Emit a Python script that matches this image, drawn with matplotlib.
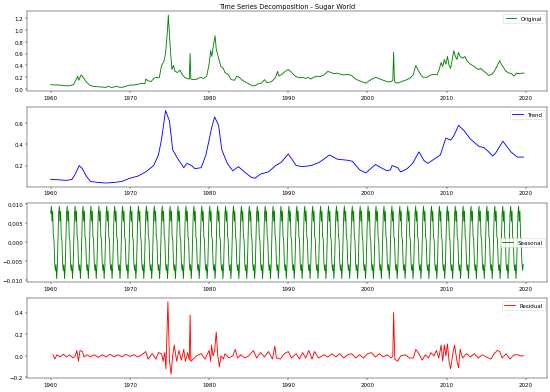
#!/usr/bin/env python3
"""
Time series decomposition chart for the Sugar World monthly price series.
Values are read off the reference picture (year, value) pairs.
"""

import numpy as np
import matplotlib
matplotlib.use("Agg")
import matplotlib.pyplot as plt

# Original series (year, price)
orig_years = [1960.0, 1960.5, 1961.0, 1961.5, 1962.0, 1962.5, 1962.9, 1963.2, 1963.4, 1963.55,
              1963.7, 1963.85, 1964.1, 1964.5, 1965.0, 1965.5, 1966.0, 1966.5, 1967.0, 1967.3,
              1967.6, 1968.0, 1968.3, 1968.6, 1969.0, 1969.5, 1970.0, 1970.5, 1971.0, 1971.5,
              1971.9, 1972.0, 1972.3, 1972.7, 1973.0, 1973.3, 1973.7, 1974.0, 1974.3, 1974.5,
              1974.75, 1974.85, 1975.0, 1975.15, 1975.3, 1975.5, 1975.7, 1976.0, 1976.3, 1976.6,
              1976.9, 1977.2, 1977.5, 1977.6, 1977.7, 1978.0, 1978.5, 1978.9, 1979.3, 1979.7,
              1980.0, 1980.2, 1980.35, 1980.5, 1980.75, 1980.9, 1981.2, 1981.5, 1981.8, 1982.0,
              1982.4, 1982.8, 1983.2, 1983.5, 1983.8, 1984.2, 1984.6, 1985.0, 1985.5, 1985.8,
              1986.2, 1986.6, 1987.0, 1987.3, 1987.7, 1988.0, 1988.4, 1988.65, 1988.8, 1989.2,
              1989.6, 1990.0, 1990.3, 1990.7, 1991.0, 1991.5, 1991.8, 1992.2, 1992.5, 1992.8,
              1993.2, 1993.6, 1994.0, 1994.5, 1995.0, 1995.4, 1995.8, 1996.2, 1996.6, 1997.0,
              1997.5, 1998.0, 1998.5, 1999.0, 1999.4, 1999.8, 2000.2, 2000.6, 2001.0, 2001.4,
              2001.8, 2002.2, 2002.6, 2003.0, 2003.2, 2003.3, 2003.4, 2003.7, 2004.0, 2004.5,
              2005.0, 2005.5, 2005.8, 2006.1, 2006.4, 2006.7, 2007.0, 2007.5, 2008.0, 2008.5,
              2008.8, 2009.1, 2009.3, 2009.5, 2009.7, 2009.9, 2010.1, 2010.3, 2010.5, 2010.7,
              2010.9, 2011.1, 2011.3, 2011.5, 2011.7, 2012.0, 2012.3, 2012.6, 2013.0, 2013.5,
              2014.0, 2014.3, 2014.7, 2015.0, 2015.3, 2015.7, 2016.0, 2016.4, 2016.7, 2016.9,
              2017.2, 2017.5, 2017.9, 2018.2, 2018.5, 2018.8, 2019.2, 2019.5, 2019.75]
orig_values = [0.075, 0.07, 0.07, 0.065, 0.055, 0.06, 0.08, 0.16, 0.22, 0.15,
               0.2, 0.24, 0.2, 0.12, 0.06, 0.045, 0.04, 0.035, 0.03, 0.05,
               0.03, 0.035, 0.05, 0.035, 0.03, 0.05, 0.07, 0.07, 0.08, 0.1,
               0.09, 0.17, 0.14, 0.13, 0.18, 0.2, 0.19, 0.4, 0.47, 0.6,
               1.0, 1.25, 0.9, 0.6, 0.33, 0.4, 0.3, 0.28, 0.32, 0.25,
               0.2, 0.18, 0.17, 0.6, 0.17, 0.16, 0.17, 0.2, 0.18, 0.22,
               0.42, 0.65, 0.55, 0.7, 0.9, 0.68, 0.52, 0.38, 0.35, 0.28,
               0.25, 0.16, 0.15, 0.22, 0.2, 0.15, 0.12, 0.09, 0.055, 0.06,
               0.09, 0.1, 0.16, 0.11, 0.12, 0.14, 0.2, 0.3, 0.22, 0.25,
               0.3, 0.33, 0.3, 0.24, 0.21, 0.19, 0.2, 0.18, 0.2, 0.17,
               0.2, 0.22, 0.21, 0.24, 0.3, 0.28, 0.26, 0.27, 0.25, 0.24,
               0.25, 0.23, 0.17, 0.14, 0.12, 0.1, 0.14, 0.17, 0.2, 0.18,
               0.16, 0.14, 0.12, 0.13, 0.15, 0.62, 0.13, 0.1, 0.11, 0.14,
               0.16, 0.2, 0.25, 0.4, 0.32, 0.25, 0.2, 0.2, 0.24, 0.25,
               0.24, 0.35, 0.45, 0.38, 0.5, 0.42, 0.55, 0.4, 0.35, 0.5,
               0.65, 0.55, 0.5, 0.62, 0.55, 0.52, 0.55, 0.47, 0.42, 0.38,
               0.33, 0.35, 0.3, 0.27, 0.23, 0.25, 0.3, 0.4, 0.48, 0.42,
               0.36, 0.3, 0.27, 0.26, 0.22, 0.27, 0.26, 0.27, 0.27]

# Trend component
trend_years = [1960.0, 1961.0, 1962.0, 1962.7, 1963.1, 1963.6, 1964.0, 1964.5, 1965.0, 1966.0,
               1967.0, 1968.0, 1969.0, 1970.0, 1971.0, 1972.0, 1973.0, 1973.6, 1974.0, 1974.5,
               1975.0, 1975.4, 1976.0, 1976.8, 1977.2, 1977.8, 1978.2, 1979.0, 1979.6, 1980.3,
               1980.7, 1981.2, 1981.6, 1982.3, 1983.0, 1983.7, 1984.3, 1985.3, 1985.8, 1986.5,
               1987.5, 1988.4, 1989.1, 1990.0, 1991.0, 1991.8, 1992.9, 1993.9, 1995.2, 1996.2,
               1997.5, 1998.1, 1999.0, 1999.8, 2000.4, 2001.0, 2001.7, 2002.5, 2002.9, 2003.1,
               2003.8, 2004.2, 2005.0, 2005.7, 2006.5, 2007.1, 2007.6, 2008.6, 2009.2, 2009.9,
               2010.5, 2010.9, 2011.5, 2012.2, 2013.0, 2014.1, 2014.7, 2015.3, 2015.8, 2016.2,
               2017.1, 2018.1, 2018.9, 2019.7]
trend_values = [0.07, 0.065, 0.06, 0.07, 0.12, 0.2, 0.17, 0.1, 0.05, 0.04,
                0.035, 0.04, 0.05, 0.08, 0.1, 0.14, 0.2, 0.3, 0.45, 0.72,
                0.62, 0.35, 0.27, 0.18, 0.22, 0.2, 0.17, 0.18, 0.3, 0.55,
                0.66, 0.58, 0.35, 0.22, 0.15, 0.19, 0.15, 0.09, 0.08, 0.12,
                0.14, 0.2, 0.23, 0.31, 0.2, 0.19, 0.2, 0.23, 0.3, 0.26,
                0.25, 0.24, 0.16, 0.13, 0.17, 0.21, 0.18, 0.15, 0.16, 0.2,
                0.18, 0.14, 0.17, 0.22, 0.33, 0.25, 0.22, 0.27, 0.3, 0.46,
                0.44, 0.48, 0.58, 0.53, 0.45, 0.38, 0.37, 0.33, 0.29, 0.32,
                0.43, 0.33, 0.28, 0.28]

# Seasonal component: one value per calendar month, repeated each year
seasonal_month = [0.0076, 0.0095, 0.0055, 0.0082, 0.0015, 0.0005,
                  -0.0055, -0.0075, -0.006, -0.0097, -0.0065, 0.001]
first_year, last_year, last_month = 1960, 2019, 9

# Residual component
resid_years = [1960.3, 1960.5, 1960.8, 1961.2, 1961.6, 1962.0, 1962.4, 1962.8, 1963.1, 1963.3,
               1963.5, 1963.7, 1964.0, 1964.2, 1964.6, 1965.0, 1965.5, 1966.0, 1966.5, 1967.0,
               1967.5, 1968.0, 1968.5, 1969.0, 1969.5, 1970.0, 1970.5, 1971.0, 1971.5, 1972.0,
               1972.3, 1972.8, 1973.3, 1973.6, 1974.0, 1974.2, 1974.4, 1974.55, 1974.8, 1975.0,
               1975.2, 1975.4, 1975.6, 1975.9, 1976.2, 1976.5, 1976.8, 1977.0, 1977.3, 1977.5,
               1977.6, 1977.7, 1978.0, 1978.4, 1979.0, 1979.5, 1980.0, 1980.2, 1980.3, 1980.5,
               1980.7, 1980.9, 1981.1, 1981.3, 1981.5, 1981.8, 1982.0, 1982.5, 1983.0, 1983.3,
               1983.6, 1984.0, 1984.5, 1985.0, 1985.6, 1986.0, 1986.5, 1987.0, 1987.5, 1988.0,
               1988.3, 1988.5, 1989.0, 1989.5, 1990.0, 1990.4, 1991.0, 1991.4, 1991.8, 1992.2,
               1992.6, 1993.0, 1993.3, 1993.8, 1994.5, 1995.0, 1995.5, 1996.0, 1996.5, 1997.0,
               1997.5, 1998.0, 1998.5, 1999.0, 1999.5, 2000.0, 2000.5, 2001.0, 2001.5, 2002.0,
               2002.5, 2003.0, 2003.2, 2003.3, 2003.45, 2003.8, 2004.2, 2004.8, 2005.3, 2005.8,
               2006.1, 2006.5, 2006.9, 2007.3, 2007.7, 2008.0, 2008.4, 2008.7, 2009.0, 2009.3,
               2009.5, 2009.7, 2009.9, 2010.1, 2010.3, 2010.5, 2010.8, 2011.0, 2011.3, 2011.5,
               2011.7, 2012.0, 2012.5, 2013.0, 2013.5, 2014.0, 2014.5, 2015.0, 2015.6, 2016.0,
               2016.4, 2016.7, 2017.0, 2017.5, 2018.0, 2018.5, 2019.0, 2019.3, 2019.7]
resid_values = [0.01, -0.03, 0.01, -0.01, 0.015, -0.01, 0.01, -0.02, 0.0, 0.05,
                -0.05, 0.05, 0.04, -0.01, 0.01, -0.01, 0.01, -0.015, 0.01, -0.01,
                0.015, -0.01, 0.01, -0.01, 0.015, -0.005, 0.01, -0.01, 0.01, 0.04,
                -0.03, 0.02, -0.03, 0.03, 0.02, -0.05, 0.03, -0.12, 0.5, -0.05,
                -0.17, 0.0, 0.1, -0.05, 0.05, -0.04, 0.06, -0.05, 0.03, -0.04,
                0.38, -0.05, -0.03, 0.0, 0.02, -0.03, 0.05, -0.05, 0.1, 0.0,
                0.05, 0.22, 0.0, -0.1, 0.0, -0.03, 0.02, -0.02, 0.0, 0.06,
                -0.02, 0.01, -0.02, 0.0, 0.05, -0.02, 0.03, -0.01, 0.04, -0.03,
                0.09, -0.02, -0.03, 0.02, 0.04, -0.02, 0.02, -0.03, 0.03, -0.02,
                0.05, -0.03, 0.04, -0.02, 0.01, -0.01, 0.02, -0.01, 0.02, -0.02,
                0.01, 0.02, -0.02, 0.01, -0.02, 0.02, 0.03, -0.01, 0.02, -0.01,
                0.01, -0.02, 0.0, 0.4, -0.03, -0.05, 0.0, 0.01, -0.02, -0.02,
                0.06, 0.02, -0.04, 0.01, -0.02, 0.03, 0.0, 0.05, -0.02, 0.1,
                -0.05, 0.1, 0.0, 0.11, -0.05, -0.12, 0.03, 0.1, -0.05, -0.11,
                0.06, -0.02, 0.02, -0.01, 0.02, -0.02, 0.01, -0.01, -0.03, 0.02,
                0.05, 0.04, -0.02, 0.02, -0.03, 0.01, 0.01, 0.0, 0.0]

# monthly axis for the seasonal component
n_months = (last_year - first_year) * 12 + last_month
seas_years = first_year + np.arange(n_months) / 12.0
seas_values = np.array([seasonal_month[i % 12] for i in range(n_months)])

fig, (ax1, ax2, ax3, ax4) = plt.subplots(4, 1, figsize=(14, 10), dpi=550 / 14)
fig.subplots_adjust(left=0.049, right=0.995, top=0.969, bottom=0.036, hspace=0.2)

lw = 1.6

ax1.plot(orig_years, orig_values, label='Original', color='green', lw=lw)
ax1.set_title('Time Series Decomposition - Sugar World')
ax1.set_yticks(np.arange(0, 1.21, 0.2))
ax1.legend(loc='upper right')

ax2.plot(trend_years, trend_values, label='Trend', color='blue', lw=lw)
ax2.set_yticks([0.2, 0.4, 0.6])
ax2.legend(loc='upper right')

ax3.plot(seas_years, seas_values, label='Seasonal', color='green', lw=lw)
ax3.set_yticks([-0.010, -0.005, 0.0, 0.005, 0.010])
ax3.legend(loc='center right')

ax4.plot(resid_years, resid_values, label='Residual', color='red', lw=lw)
ax4.set_yticks([-0.2, 0.0, 0.2, 0.4])
ax4.legend(loc='upper right')

for ax in (ax1, ax2, ax3, ax4):
    ax.set_xlim(1957.0, 2022.7)
    ax.set_xticks(range(1960, 2021, 10))

plt.savefig('out.png', dpi=550 / 14)
